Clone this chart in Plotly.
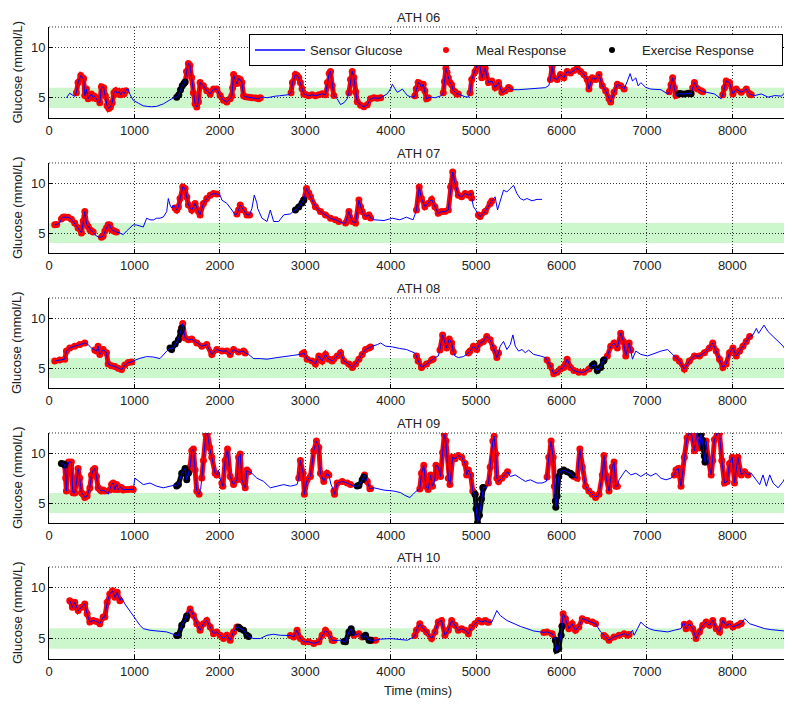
import plotly.graph_objects as go

# ---------------- data (time in mins, glucose in mmol/L) ----------------
SUBJECTS = ["ATH 06", "ATH 07", "ATH 08", "ATH 09", "ATH 10"]

S06 = [(204,5.0),(243,5.45),(301,5.13),(321,5.5),(340,6.5),(372,7.2),(391,6.97),(405,6.9),(419,5.22),(438,5.86),(458,4.9),(478,5.13),(497,5.38),(517,5.0),(536,5.13),(556,4.9),(575,4.6),(595,4.52),(614,6.1),(640,6.0),(660,5.2),(680,4.2),(700,3.95),(720,4.1),(740,4.5),(760,5.5),(780,5.7),(800,5.4),(820,5.6),(840,5.3),(860,5.6),(880,5.4),(900,5.7),(920,5.95),(950,5.3),(986,4.75),(1050,4.45),(1104,4.2),(1150,4.15),(1200,4.11),(1260,4.15),(1300,4.27),(1340,4.4),(1378,4.6),(1420,4.85),(1470,5.06),(1495,5.06),(1520,5.3),(1540,5.8),(1560,6.2),(1580,6.4),(1593,6.56),(1610,7.6),(1632,8.4),(1650,8.2),(1670,7.0),(1690,5.5),(1710,4.4),(1730,4.1),(1750,4.6),(1769,6.5),(1808,6.18),(1847,5.7),(1887,5.38),(1926,5.86),(1965,5.86),(2004,5.22),(2043,4.75),(2082,4.59),(2121,4.9),(2141,5.2),(2150,6.0),(2161,7.3),(2180,6.8),(2200,6.4),(2219,6.9),(2239,6.8),(2258,6.5),(2278,5.2),(2300,5.1),(2337,5.06),(2376,5.0),(2420,4.97),(2454,4.9),(2474,5.0),(2513,5.06),(2552,5.0),(2600,5.1),(2650,5.16),(2700,5.2),(2748,5.22),(2800,5.3),(2834,5.5),(2850,6.5),(2885,7.29),(2904,7.2),(2924,6.97),(2943,6.5),(2963,5.9),(2983,5.38),(3010,5.3),(3040,5.2),(3080,5.3),(3120,5.2),(3160,5.3),(3200,5.4),(3237,5.3),(3260,6.5),(3280,7.4),(3296,7.61),(3315,6.2),(3335,5.22),(3374,4.9),(3413,4.33),(3452,4.5),(3491,4.9),(3511,5.5),(3530,6.8),(3550,7.61),(3569,7.0),(3589,5.6),(3609,4.6),(3648,4.27),(3687,4.11),(3726,4.3),(3765,4.9),(3804,5.0),(3844,4.95),(3883,5.0),(3922,5.22),(3961,5.4),(4000,5.9),(4020,6.34),(4050,5.9),(4078,5.54),(4110,5.7),(4137,5.86),(4170,5.5),(4196,5.22),(4235,5.1),(4274,5.06),(4283,5.2),(4300,5.9),(4322,6.5),(4341,6.4),(4361,6.02),(4381,6.34),(4400,5.7),(4420,4.9),(4440,5.0),(4479,5.06),(4520,5.0),(4557,5.1),(4596,5.22),(4616,5.5),(4630,6.6),(4647,7.93),(4660,7.5),(4675,6.97),(4694,6.5),(4714,6.3),(4733,5.7),(4753,5.6),(4773,5.38),(4792,5.38),(4831,5.22),(4871,5.1),(4910,5.06),(4930,5.5),(4949,6.82),(4988,7.61),(5027,8.57),(5047,8.09),(5067,6.97),(5106,7.93),(5145,6.5),(5184,6.66),(5223,6.02),(5263,6.5),(5302,5.54),(5341,5.7),(5380,6.02),(5400,5.9),(5439,5.8),(5500,5.8),(5596,5.86),(5700,5.86),(5753,5.92),(5811,6.0),(5851,6.2),(5870,6.8),(5890,8.09),(5909,6.97),(5949,6.82),(5988,7.29),(6027,6.97),(6066,7.61),(6105,7.45),(6145,7.7),(6184,7.93),(6223,7.61),(6262,7.29),(6301,6.82),(6321,5.86),(6360,6.97),(6399,6.82),(6439,7.29),(6478,6.18),(6517,5.7),(6556,4.9),(6576,4.59),(6615,5.54),(6654,6.34),(6693,6.18),(6733,5.86),(6772,6.66),(6803,7.39),(6831,6.66),(6870,6.97),(6897,6.18),(6929,6.5),(6987,6.02),(7046,5.86),(7164,5.8),(7242,5.38),(7262,5.6),(7282,6.3),(7301,6.97),(7321,6.0),(7340,5.22),(7368,5.38),(7379,5.4),(7400,5.4),(7440,5.38),(7480,5.45),(7516,5.4),(7536,6.0),(7556,6.5),(7595,5.86),(7634,5.7),(7654,5.6),(7700,5.54),(7791,5.38),(7869,4.9),(7888,5.3),(7908,6.0),(7928,6.66),(7967,6.5),(8007,5.38),(8046,5.86),(8105,5.54),(8163,5.86),(8203,5.38),(8222,5.3),(8261,5.22),(8340,5.38),(8418,5.06),(8497,5.22),(8575,5.16),(8614,5.5),(8640,6.3)]
MEAL06 = [(313,556),(595,900),(1593,2121),(2141,2474),(2834,3335),(3511,3883),(4283,4440),(4616,4792),(4930,5400),(5870,6733),(7262,7379),(7516,7654),(7888,8222)]
EXER06 = [(1495,1593),(7379,7516)]

S07 = [(67,5.82),(90,5.85),(125,6.0),(145,6.4),(164,6.58),(184,6.6),(223,6.58),(262,6.38),(301,5.99),(341,5.49),(380,5.0),(400,6.2),(419,7.14),(440,5.9),(458,5.66),(478,5.33),(497,5.2),(517,5.1),(536,4.84),(575,4.6),(595,4.57),(614,4.57),(634,4.7),(654,5.2),(673,5.49),(693,5.82),(712,5.8),(732,5.33),(751,5.25),(771,5.16),(790,5.1),(830,5.0),(869,4.84),(908,5.2),(947,5.49),(986,5.82),(1025,5.8),(1065,5.72),(1104,5.6),(1143,6.48),(1182,6.32),(1221,6.3),(1260,6.48),(1299,6.48),(1339,6.6),(1378,7.14),(1397,8.45),(1417,7.8),(1436,7.5),(1456,7.8),(1476,7.5),(1495,7.3),(1515,7.6),(1534,8.45),(1566,9.61),(1593,9.44),(1613,8.6),(1632,7.8),(1671,7.3),(1710,7.96),(1750,7.14),(1769,6.81),(1808,7.96),(1847,8.45),(1887,8.78),(1926,8.95),(1965,8.9),(2004,8.78),(2024,8.29),(2082,7.96),(2141,7.3),(2180,6.81),(2200,6.9),(2219,7.3),(2239,7.8),(2278,7.3),(2317,6.81),(2348,6.81),(2376,7.47),(2403,8.78),(2434,8.0),(2442,7.47),(2493,6.48),(2552,6.15),(2591,7.3),(2630,6.15),(2689,6.15),(2748,6.81),(2826,6.91),(2865,7.2),(2885,7.3),(2924,7.6),(2963,8.0),(2983,8.29),(3014,9.44),(3041,9.0),(3061,8.62),(3119,7.63),(3178,7.14),(3237,6.81),(3296,6.48),(3354,6.32),(3393,6.15),(3433,6.0),(3472,6.0),(3511,7.14),(3550,6.15),(3589,5.99),(3628,8.29),(3648,7.6),(3667,7.14),(3706,6.64),(3746,6.81),(3765,6.5),(3804,6.32),(3922,6.25),(4020,6.48),(4106,6.32),(4185,6.58),(4263,6.32),(4302,7.3),(4334,9.61),(4361,8.45),(4400,7.63),(4439,7.96),(4479,8.36),(4518,7.63),(4557,6.97),(4596,7.14),(4635,7.14),(4675,7.3),(4702,9.61),(4726,11.09),(4753,9.93),(4792,8.78),(4831,8.62),(4871,8.95),(4910,8.78),(4937,8.95),(4949,8.5),(4969,7.63),(5008,7.14),(5027,6.8),(5047,6.64),(5106,7.14),(5165,7.96),(5184,8.2),(5223,8.62),(5251,7.3),(5282,8.29),(5321,9.28),(5361,9.11),(5400,9.44),(5439,9.77),(5478,8.95),(5517,8.45),(5557,8.29),(5596,8.45),(5655,8.22),(5713,8.36),(5772,8.36)]
MEAL07 = [(60,100),(140,517),(614,790),(1476,1965),(2200,2356),(2983,3394),(3472,3765),(4302,4949),(5027,5184)]
EXER07 = [(2885,2983)]

S08 = [(67,5.71),(125,5.81),(184,5.88),(204,6.69),(243,7.01),(301,7.18),(360,7.34),(419,7.5),(458,7.34),(497,7.01),(536,6.8),(556,6.69),(575,7.18),(595,6.36),(634,6.85),(673,6.53),(693,5.39),(732,5.23),(771,5.16),(810,4.97),(849,4.84),(888,5.29),(928,5.55),(967,5.6),(986,5.71),(1065,5.97),(1143,6.14),(1221,6.1),(1299,5.94),(1378,6.69),(1417,7.0),(1436,6.85),(1476,7.4),(1515,7.82),(1542,8.64),(1554,9.0),(1566,9.45),(1593,7.99),(1632,7.82),(1671,7.89),(1730,7.5),(1789,7.18),(1847,7.34),(1906,6.36),(1965,6.85),(2024,6.69),(2082,6.69),(2121,6.36),(2161,6.85),(2219,6.59),(2278,6.69),(2297,6.5),(2337,6.36),(2395,5.94),(2474,5.94),(2552,5.88),(2669,6.04),(2787,6.14),(2865,6.27),(2943,6.36),(2963,6.4),(2983,6.53),(3022,5.88),(3080,5.71),(3119,5.39),(3159,6.2),(3198,5.71),(3237,6.36),(3276,5.88),(3315,5.71),(3335,5.9),(3354,6.04),(3374,6.2),(3413,6.53),(3452,5.71),(3511,5.39),(3550,5.06),(3589,5.39),(3628,5.88),(3667,6.36),(3706,6.85),(3746,7.01),(3765,7.1),(3785,7.18),(3844,7.34),(3883,7.5),(3941,7.18),(4020,7.11),(4106,6.95),(4185,6.85),(4283,6.5),(4302,6.2),(4322,5.71),(4361,5.06),(4420,5.39),(4479,5.81),(4498,5.9),(4518,6.04),(4557,6.2),(4577,6.8),(4608,8.31),(4655,7.01),(4686,7.89),(4714,7.5),(4733,6.6),(4753,6.2),(4792,6.04),(4851,6.14),(4890,6.36),(4910,6.5),(4929,6.69),(4969,7.18),(5008,6.85),(5047,7.5),(5086,7.66),(5125,8.15),(5165,7.82),(5204,7.01),(5243,6.04),(5263,6.5),(5282,7.18),(5321,7.66),(5361,6.85),(5400,7.34),(5431,8.31),(5459,7.18),(5498,6.69),(5537,6.85),(5576,6.53),(5615,6.79),(5674,6.36),(5753,6.2),(5811,6.04),(5831,5.8),(5870,5.23),(5909,4.42),(5949,4.58),(5988,4.9),(6027,5.06),(6047,5.4),(6066,5.88),(6105,5.06),(6145,4.74),(6203,4.58),(6262,4.58),(6321,4.9),(6360,5.23),(6380,5.39),(6419,4.74),(6458,5.06),(6490,5.71),(6497,5.8),(6537,6.2),(6576,7.18),(6615,7.5),(6654,7.01),(6693,8.47),(6725,7.66),(6752,6.2),(6792,7.5),(6811,6.8),(6831,5.88),(6870,6.69),(6929,6.36),(7007,6.2),(7085,6.46),(7164,6.69),(7242,6.85),(7301,6.36),(7340,6.0),(7379,5.71),(7438,4.9),(7497,5.71),(7556,6.2),(7615,6.2),(7673,6.53),(7732,7.01),(7771,7.5),(7811,6.69),(7850,5.88),(7889,5.06),(7928,5.39),(7967,6.53),(8007,7.01),(8046,6.2),(8085,6.69),(8124,7.18),(8163,7.66),(8203,8.15),(8242,8.31),(8281,8.96),(8308,8.47),(8340,8.96),(8371,9.29),(8418,8.64),(8477,8.15),(8536,7.66),(8595,7.18),(8640,6.5)]
MEAL08 = [(47,438),(536,967),(1554,2297),(2963,3335),(3374,3765),(4302,4498),(4577,4733),(4910,5263),(5831,6360),(6497,6811),(7340,8203)]
EXER08 = [(1417,1554),(6360,6497)]

S09 = [(145,8.94),(175,8.9),(184,8.8),(195,7.5),(204,6.2),(215,8.5),(230,9.1),(262,9.1),(280,6.03),(301,6.0),(321,7.0),(341,8.45),(360,7.5),(380,6.03),(399,5.87),(419,5.55),(446,5.71),(478,6.5),(497,7.8),(517,8.3),(536,8.45),(556,7.65),(575,6.52),(595,6.35),(614,6.2),(634,6.29),(654,6.2),(673,6.1),(693,5.87),(712,6.3),(732,6.84),(751,7.0),(771,6.35),(791,6.84),(810,6.35),(830,6.6),(849,6.52),(869,6.3),(888,6.35),(928,6.35),(967,6.4),(986,6.35),(1006,7.48),(1045,7.2),(1104,6.84),(1182,7.0),(1260,6.68),(1339,6.52),(1417,6.68),(1476,6.8),(1495,6.7),(1515,6.84),(1554,7.97),(1593,8.45),(1613,7.32),(1632,8.0),(1652,8.61),(1671,10.23),(1691,10.39),(1710,8.29),(1730,6.19),(1757,5.87),(1775,6.35),(1789,7.5),(1808,9.26),(1836,11.84),(1855,12.0),(1879,10.55),(1906,9.58),(1945,7.97),(1965,7.8),(1984,8.29),(2004,7.48),(2024,7.0),(2035,6.68),(2063,9.26),(2090,10.39),(2121,7.65),(2161,6.84),(2200,7.32),(2219,9.58),(2239,9.9),(2258,7.32),(2297,6.52),(2317,8.29),(2337,8.13),(2376,7.97),(2434,7.48),(2513,7.16),(2591,6.52),(2669,6.68),(2748,6.84),(2826,6.68),(2904,6.84),(2924,7.5),(2943,9.26),(2975,7.97),(2990,5.87),(3022,7.32),(3061,7.65),(3100,10.23),(3131,11.19),(3159,10.55),(3178,7.97),(3217,7.16),(3256,7.97),(3276,7.8),(3300,6.9),(3335,6.2),(3343,5.87),(3374,7.0),(3433,7.16),(3491,7.0),(3530,6.84),(3569,6.68),(3608,6.7),(3628,6.74),(3667,7.32),(3687,7.6),(3695,7.81),(3726,7.16),(3757,6.42),(3765,6.45),(3804,6.52),(3922,6.29),(4039,6.19),(4118,6.03),(4165,5.77),(4224,5.55),(4263,5.87),(4300,6.19),(4341,6.4),(4361,7.97),(4388,8.77),(4412,6.68),(4439,6.35),(4467,7.81),(4490,6.68),(4505,6.9),(4518,7.5),(4530,8.77),(4557,8.61),(4584,7.65),(4608,10.06),(4628,11.84),(4647,11.19),(4675,7.48),(4694,6.84),(4726,9.58),(4753,9.42),(4792,9.74),(4831,9.58),(4871,8.94),(4890,7.81),(4910,8.29),(4937,7.81),(4961,6.19),(4988,5.87),(5000,4.42),(5016,3.0),(5039,3.77),(5063,5.39),(5078,6.52),(5086,6.55),(5106,6.52),(5125,6.52),(5145,7.0),(5165,8.61),(5196,11.19),(5212,11.68),(5231,9.9),(5243,7.48),(5263,7.16),(5302,7.48),(5341,7.81),(5368,8.13),(5400,7.65),(5459,7.81),(5517,7.48),(5576,7.16),(5635,7.32),(5713,7.0),(5772,7.0),(5823,7.16),(5831,7.6),(5851,9.58),(5878,11.19),(5902,9.58),(5917,6.68),(5929,5.2),(5933,4.58),(5949,5.71),(5968,7.65),(5988,8.13),(6027,8.29),(6066,8.13),(6105,7.97),(6125,7.8),(6145,7.65),(6184,7.48),(6215,10.39),(6243,8.61),(6282,6.68),(6321,6.19),(6360,5.87),(6399,5.55),(6439,5.87),(6478,7.81),(6497,9.74),(6517,7.81),(6556,6.19),(6595,8.61),(6615,9.1),(6635,6.68),(6654,6.68),(6674,7.32),(6713,7.81),(6752,8.29),(6811,7.81),(6870,7.97),(6929,7.65),(6987,7.97),(7046,7.7),(7105,7.97),(7164,7.48),(7223,7.32),(7282,7.48),(7321,7.8),(7340,8.29),(7368,8.45),(7399,6.68),(7438,9.58),(7470,11.52),(7497,12.0),(7524,11.84),(7556,10.23),(7587,12.0),(7615,10.5),(7634,11.9),(7648,11.3),(7660,10.5),(7672,9.7),(7681,9.1),(7693,11.19),(7720,9.26),(7752,7.81),(7771,9.26),(7791,11.35),(7822,12.0),(7850,12.0),(7877,9.26),(7908,7.0),(7940,7.16),(7967,8.94),(7999,9.58),(8026,7.0),(8065,9.58),(8105,7.81),(8144,8.13),(8183,7.81),(8222,7.97),(8261,7.48),(8320,6.84),(8359,7.81),(8398,6.68),(8438,7.81),(8477,7.0),(8536,6.52),(8595,7.16),(8634,7.81)]
MEAL09 = [(184,654),(712,986),(1632,1769),(1789,1965),(2024,2337),(2924,3276),(3335,3530),(3687,3765),(4341,4498),(4518,4988),(5145,5368),(5831,5929),(6125,6654),(7321,7634),(7681,8183)]
EXER09 = [(140,184),(1495,1632),(3608,3687),(4988,5086),(5929,6125),(7634,7681)]

S10 = [(243,8.71),(274,8.06),(301,8.55),(341,7.74),(380,8.06),(419,8.39),(446,7.42),(478,6.61),(517,6.77),(556,6.68),(595,6.45),(634,7.1),(654,7.1),(681,8.55),(712,9.35),(744,9.68),(771,9.03),(798,9.52),(830,8.71),(849,9.03),(888,8.39),(947,7.74),(986,7.26),(1025,6.77),(1065,6.29),(1104,5.97),(1182,5.81),(1280,5.74),(1378,5.65),(1436,5.48),(1476,5.32),(1495,5.3),(1515,5.32),(1554,6.29),(1605,6.94),(1613,7.2),(1652,7.9),(1691,7.26),(1730,6.45),(1769,5.81),(1808,6.45),(1847,6.77),(1887,6.13),(1926,5.48),(1965,5.65),(2004,5.32),(2043,5.0),(2082,5.32),(2121,4.84),(2161,5.65),(2200,6.13),(2219,6.1),(2239,5.97),(2278,5.81),(2317,5.32),(2337,5.2),(2395,5.0),(2474,5.0),(2552,5.32),(2630,5.42),(2708,5.32),(2787,5.32),(2826,5.3),(2865,5.16),(2904,5.81),(2943,5.0),(2983,4.68),(3041,4.68),(3100,4.52),(3159,4.68),(3198,5.32),(3237,5.81),(3276,5.48),(3315,4.84),(3335,4.8),(3374,4.84),(3413,4.84),(3452,4.7),(3472,4.68),(3511,5.65),(3538,5.97),(3550,5.6),(3569,5.32),(3628,5.48),(3667,5.16),(3687,5.2),(3706,5.32),(3746,4.84),(3765,4.84),(3785,4.84),(3824,4.84),(3883,4.94),(4000,5.0),(4118,4.9),(4196,4.84),(4274,5.16),(4283,5.3),(4302,5.81),(4341,6.45),(4381,5.97),(4420,5.65),(4479,5.0),(4518,5.65),(4557,6.61),(4596,6.77),(4635,5.32),(4675,5.81),(4714,6.77),(4753,6.29),(4792,5.81),(4831,5.97),(4871,5.81),(4910,5.48),(4949,6.13),(4988,6.45),(5027,6.77),(5067,6.61),(5106,6.77),(5133,6.61),(5145,6.6),(5184,6.61),(5243,7.74),(5282,7.26),(5361,6.77),(5439,6.45),(5517,6.19),(5596,5.97),(5674,5.74),(5753,5.65),(5792,5.6),(5831,5.65),(5890,5.48),(5929,4.84),(5941,3.87),(5968,4.03),(5996,5.32),(6007,6.2),(6019,7.42),(6047,6.94),(6086,5.97),(6125,6.45),(6164,5.81),(6203,6.13),(6243,6.94),(6301,6.77),(6360,6.61),(6399,6.45),(6458,5.65),(6497,5.3),(6517,5.16),(6556,4.84),(6615,5.16),(6674,5.32),(6733,5.48),(6772,5.32),(6792,5.4),(6831,5.81),(6850,5.32),(6890,5.97),(6929,6.61),(6968,6.29),(7027,5.97),(7085,5.81),(7164,5.74),(7242,5.65),(7321,5.81),(7399,5.97),(7430,6.61),(7438,6.4),(7458,5.97),(7497,6.45),(7536,5.97),(7575,5.0),(7615,5.65),(7654,6.29),(7693,6.61),(7732,6.29),(7771,6.77),(7811,5.97),(7850,5.65),(7889,6.77),(7928,6.29),(7967,6.45),(8007,6.13),(8065,6.29),(8097,6.45),(8105,6.5),(8144,6.94),(8203,6.45),(8261,6.29),(8320,6.13),(8379,5.97),(8457,5.87),(8536,5.81),(8614,5.74),(8640,5.4)]
MEAL10 = [(223,830),(1613,2219),(2826,3335),(3550,3687),(3765,3824),(4283,5145),(5792,5929),(6007,6399),(6497,6792),(7438,8105)]
EXER10 = [(1495,1613),(2219,2337),(3452,3550),(3687,3765),(5929,6007)]

SERIES = [S06, S07, S08, S09, S10]
MEALS = [MEAL06, MEAL07, MEAL08, MEAL09, MEAL10]
EXERCISES = [EXER06, EXER07, EXER08, EXER09, EXER10]

TARGET_LOW, TARGET_HIGH = 4, 6
X_RANGE = [0, 8640]
Y_RANGE = [3, 12]
X_TICKS = [0, 1000, 2000, 3000, 4000, 5000, 6000, 7000, 8000]
Y_TICKS = [5, 10]

# ---------------- styling / layout ----------------
PAGE_MARGIN = 8                      # default body margin of the html page
W, H = 792 - PAGE_MARGIN, 705 - PAGE_MARGIN
ML, MR = 49 - PAGE_MARGIN, 5
PW = W - ML - MR
PANEL_TOP = [27, 163, 298, 433, 567]   # screen px
PANEL_BOT = [118, 253, 388, 523, 659]
FONT = "Liberation Sans, Arial, sans-serif"
TXT = "#222222"
BLUE = "#0000ff"
RED = "#ff0000"
BAND = "rgb(204,247,204)"
GRID = "#333333"


def sy(px):
    """screen pixel row -> paper fraction"""
    return 1 - (px - PAGE_MARGIN) / H


def pick(series, intervals):
    xs, ys = [], []
    for a, b in intervals:
        for t, g in series:
            if a <= t <= b:
                xs.append(t)
                ys.append(g)
        xs.append(None)
        ys.append(None)
    return xs, ys


fig = go.Figure()
shapes = []
annotations = []

for i, name in enumerate(SUBJECTS):
    k = "" if i == 0 else str(i + 1)
    xa, ya = "x" + k, "y" + k
    s = SERIES[i]
    t = [p[0] for p in s]
    g = [p[1] for p in s]

    mx, my = pick(s, MEALS[i])
    fig.add_trace(go.Scatter(x=mx, y=my, mode="lines+markers", xaxis=xa, yaxis=ya,
                             line=dict(color=RED, width=5), marker=dict(color=RED, size=7),
                             showlegend=False, hoverinfo="skip"))
    ex, ey = pick(s, EXERCISES[i])
    fig.add_trace(go.Scatter(x=ex, y=ey, mode="lines+markers", xaxis=xa, yaxis=ya,
                             line=dict(color="#000000", width=5), marker=dict(color="#000000", size=7),
                             showlegend=False, hoverinfo="skip"))
    fig.add_trace(go.Scatter(x=t, y=g, mode="lines", xaxis=xa, yaxis=ya,
                             line=dict(color=BLUE, width=1), showlegend=False))

    axcommon = dict(showgrid=True, gridcolor=GRID, griddash="1px,2px", gridwidth=1,
                    showline=True, linecolor="#000000", linewidth=1, ticks="inside",
                    ticklen=4, tickcolor="#000000", zeroline=False, automargin=False,
                    tickfont=dict(family=FONT, size=13, color=TXT))
    fig.update_layout(**{
        "xaxis" + k: dict(domain=[0, 1], anchor=ya, range=X_RANGE, tickvals=X_TICKS,
                          mirror=False, **axcommon),
        "yaxis" + k: dict(domain=[sy(PANEL_BOT[i]), sy(PANEL_TOP[i])], anchor=xa,
                          range=Y_RANGE, tickvals=Y_TICKS, mirror="ticks", **axcommon),
    })
    shapes.append(dict(type="rect", xref=xa + " domain", yref=ya, x0=0, x1=1,
                       y0=TARGET_LOW, y1=TARGET_HIGH, fillcolor=BAND,
                       line=dict(width=0), layer="below"))
    shapes.append(dict(type="line", xref=xa + " domain", yref=ya + " domain", x0=0, x1=1,
                       y0=1, y1=1, line=dict(color=GRID, width=1, dash="1px,2px")))
    annotations.append(dict(text=name, xref="paper", yref=ya + " domain", x=0.5, y=1,
                            xanchor="center", yanchor="bottom", yshift=0, showarrow=False,
                            font=dict(family=FONT, size=13, color=TXT)))
    annotations.append(dict(text="Glucose (mmol/L)", textangle=-90, xref="paper",
                            yref=ya + " domain", x=0, y=0.5, xanchor="center",
                            yanchor="middle", xshift=-32, showarrow=False,
                            font=dict(family=FONT, size=13, color=TXT)))

annotations.append(dict(text="Time (mins)", xref="paper", yref="paper", x=0.5,
                        y=sy(690), xanchor="center", yanchor="middle", showarrow=False,
                        font=dict(family=FONT, size=13, color=TXT)))

# legend-only entries
fig.add_trace(go.Scatter(x=[None], y=[None], mode="lines", name="Sensor Glucose",
                         line=dict(color=BLUE, width=1.5), legendrank=1, legendwidth=101))
fig.add_trace(go.Scatter(x=[None], y=[None], mode="markers", name="Meal Response",
                         marker=dict(color=RED, size=6), legendrank=2, legendwidth=101))
fig.add_trace(go.Scatter(x=[None], y=[None], mode="markers", name="Exercise Response",
                         marker=dict(color="#000000", size=6), legendrank=3, legendwidth=135))

fig.update_layout(
    template="none",
    width=W, height=H,
    margin=dict(l=ML, r=MR, t=0, b=0, autoexpand=False),
    paper_bgcolor="white", plot_bgcolor="white",
    shapes=shapes, annotations=annotations,
    font=dict(family=FONT, size=13, color=TXT),
    showlegend=True,
    legend=dict(orientation="h", x=(249 - 49) / PW, y=sy(34),
                xanchor="left", yanchor="top", bgcolor="white",
                bordercolor="#000000", borderwidth=1,
                font=dict(family=FONT, size=13, color=TXT),
                itemwidth=50, traceorder="normal"),
)

fig.write_html("out.html")
